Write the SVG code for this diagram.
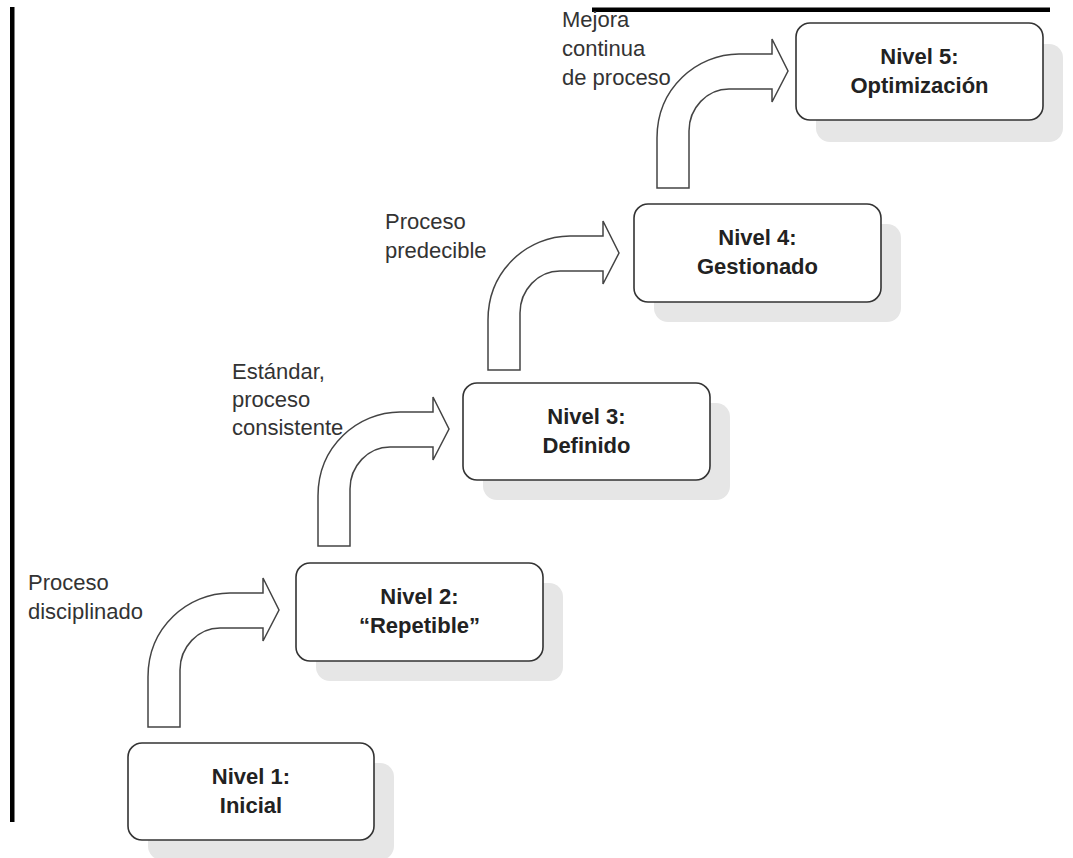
<svg xmlns="http://www.w3.org/2000/svg" width="1073" height="858" viewBox="0 0 1073 858">
<style>
.sh{fill:#e6e6e6}
.box{fill:#fff;stroke:#333;stroke-width:1.6}
.arr{fill:#fff;stroke:#444;stroke-width:1.5;stroke-linejoin:miter}
.nt{font-family:"Liberation Sans",Arial,sans-serif;font-size:22px;font-weight:bold;fill:#222;text-anchor:middle}
.lb{font-family:"Liberation Sans",Arial,sans-serif;font-size:22px;fill:#333}
</style>
<defs>
<path id="arrow" class="arr" d="M0 0 L0 -50 C0 -100 40 -134 82 -134 L115 -134 L115 -149 L131 -117 L115 -86 L115 -99 L72 -99 C50 -99 32 -80 32 -57 L32 0 Z"/>
</defs>
<rect x="10" y="7" width="4.5" height="815" fill="#000"/>
<rect x="592" y="7.5" width="458" height="4.5" fill="#000"/>
<g id="connectors">
<use href="#arrow" transform="translate(148,727)"/>
<use href="#arrow" transform="translate(318,546)"/>
<use href="#arrow" transform="translate(488,370)"/>
<use href="#arrow" transform="translate(657,188)"/>
</g>
<g id="n1">
<rect class="sh" x="148" y="763" width="246" height="97" rx="14"/>
<rect class="box" x="128" y="743" width="246" height="97" rx="14"/>
<text class="nt" x="251" y="784">Nivel 1:</text>
<text class="nt" x="251" y="813">Inicial</text>
</g>
<g id="n2">
<rect class="sh" x="316" y="583" width="247" height="98" rx="14"/>
<rect class="box" x="296" y="563" width="247" height="98" rx="14"/>
<text class="nt" x="419.5" y="604">Nivel 2:</text>
<text class="nt" x="419.5" y="633">“Repetible”</text>
</g>
<g id="n3">
<rect class="sh" x="483" y="403" width="247" height="97" rx="14"/>
<rect class="box" x="463" y="383" width="247" height="97" rx="14"/>
<text class="nt" x="586.5" y="424">Nivel 3:</text>
<text class="nt" x="586.5" y="453">Definido</text>
</g>
<g id="n4">
<rect class="sh" x="654" y="224" width="247" height="98" rx="14"/>
<rect class="box" x="634" y="204" width="247" height="98" rx="14"/>
<text class="nt" x="757.5" y="245">Nivel 4:</text>
<text class="nt" x="757.5" y="274">Gestionado</text>
</g>
<g id="n5">
<rect class="sh" x="816" y="44" width="247" height="98" rx="14"/>
<rect class="box" x="796" y="23" width="247" height="97" rx="14"/>
<text class="nt" x="919.5" y="64">Nivel 5:</text>
<text class="nt" x="919.5" y="93">Optimización</text>
</g>
<g id="labels">
<text class="lb" x="28" y="590">Proceso</text>
<text class="lb" x="28" y="619">disciplinado</text>
<text class="lb" x="232" y="379">Estándar,</text>
<text class="lb" x="232" y="407">proceso</text>
<text class="lb" x="232" y="435">consistente</text>
<text class="lb" x="385" y="229">Proceso</text>
<text class="lb" x="385" y="258">predecible</text>
<text class="lb" x="562" y="27">Mejora</text>
<text class="lb" x="562" y="56">continua</text>
<text class="lb" x="562" y="85">de proceso</text>
</g>
</svg>
